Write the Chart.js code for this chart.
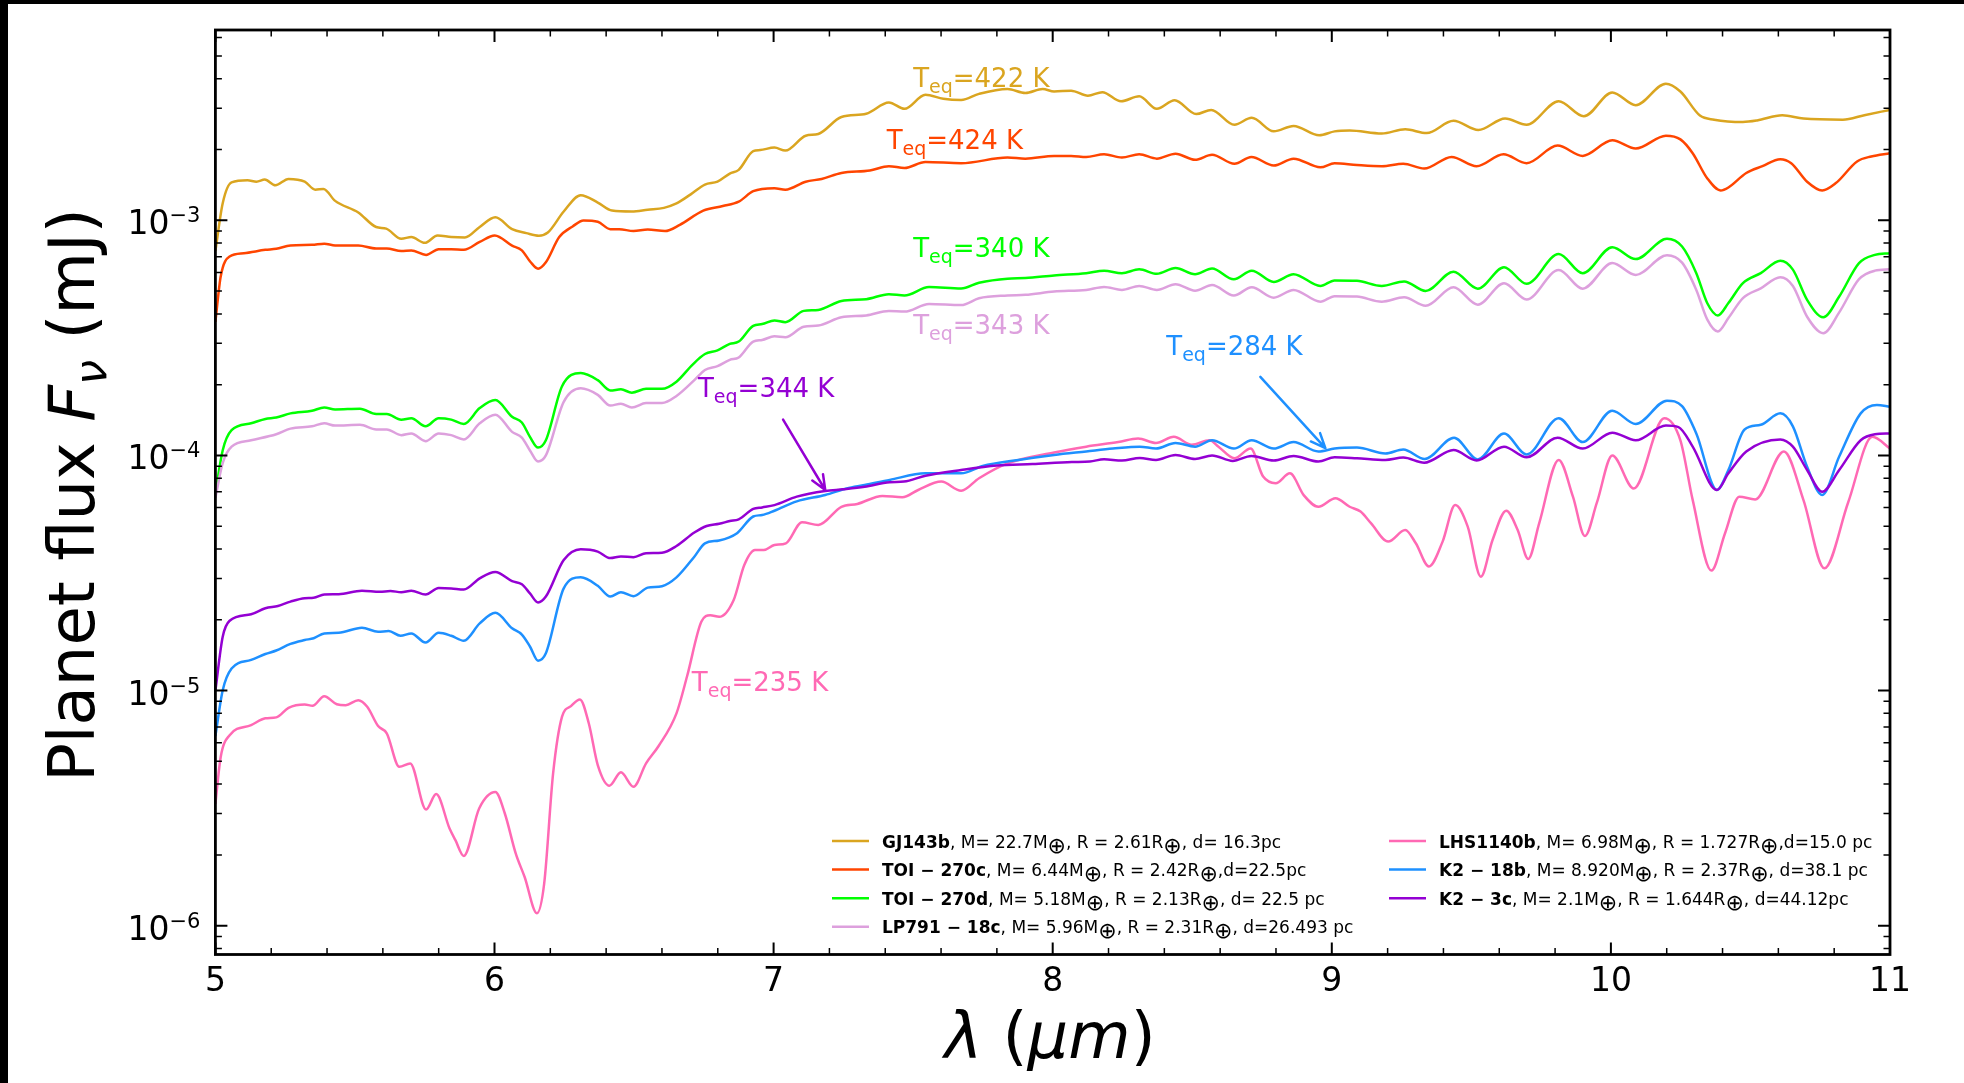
<!DOCTYPE html>
<html>
<head>
<meta charset="utf-8">
<script src="https://cdn.jsdelivr.net/npm/chart.js@4.4.0/dist/chart.umd.min.js"></script>
<style>
  html, body { margin: 0; padding: 0; background: #000; }
  body { width: 1964px; height: 1083px; overflow: hidden; position: relative; }
  #panel { position: absolute; left: 8px; top: 4px; width: 1956px; height: 1079px; background: #fff; }
  #plot { display: block; }
</style>
</head>
<body>
<div id="panel"><canvas id="plot" width="1956" height="1079"></canvas></div>
<script>
// ---- data: [wavelength (um), planet flux (mJ)] ----
const gj143b = [[5.0,7.4e-4],[5.026,1.18e-3],[5.058,1.45e-3],[5.115,1.48e-3],[5.147,1.46e-3],[5.177,1.49e-3],[5.215,1.41e-3],[5.262,1.50e-3],[5.32,1.46e-3],[5.358,1.35e-3],[5.387,1.36e-3],[5.429,1.21e-3],[5.512,1.08e-3],[5.576,9.37e-4],[5.612,9.22e-4],[5.666,8.35e-4],[5.702,8.49e-4],[5.75,8.02e-4],[5.796,8.62e-4],[5.845,8.49e-4],[5.894,8.45e-4],[5.947,9.37e-4],[6.003,1.03e-3],[6.063,9.17e-4],[6.114,8.82e-4],[6.159,8.60e-4],[6.191,8.87e-4],[6.248,1.09e-3],[6.309,1.28e-3],[6.37,1.19e-3],[6.421,1.10e-3],[6.492,1.09e-3],[6.549,1.11e-3],[6.607,1.13e-3],[6.652,1.18e-3],[6.703,1.29e-3],[6.754,1.42e-3],[6.799,1.46e-3],[6.843,1.58e-3],[6.875,1.64e-3],[6.927,1.97e-3],[6.952,1.99e-3],[7.003,2.04e-3],[7.042,1.98e-3],[7.115,2.29e-3],[7.16,2.33e-3],[7.243,2.75e-3],[7.332,2.84e-3],[7.413,3.17e-3],[7.469,2.98e-3],[7.544,3.42e-3],[7.608,3.29e-3],[7.672,3.25e-3],[7.736,3.45e-3],[7.838,3.62e-3],[7.902,3.48e-3],[7.964,3.62e-3],[8.005,3.53e-3],[8.066,3.56e-3],[8.126,3.39e-3],[8.178,3.51e-3],[8.245,3.21e-3],[8.31,3.37e-3],[8.373,2.98e-3],[8.437,3.24e-3],[8.514,2.83e-3],[8.568,2.95e-3],[8.651,2.55e-3],[8.713,2.73e-3],[8.792,2.39e-3],[8.863,2.52e-3],[8.955,2.30e-3],[9.01,2.39e-3],[9.064,2.41e-3],[9.179,2.34e-3],[9.263,2.44e-3],[9.34,2.35e-3],[9.436,2.65e-3],[9.525,2.42e-3],[9.621,2.71e-3],[9.698,2.55e-3],[9.813,3.21e-3],[9.903,2.77e-3],[10.005,3.50e-3],[10.089,3.09e-3],[10.197,3.81e-3],[10.249,3.53e-3],[10.319,2.79e-3],[10.37,2.68e-3],[10.473,2.62e-3],[10.524,2.66e-3],[10.614,2.80e-3],[10.69,2.71e-3],[10.831,2.68e-3],[10.908,2.80e-3],[11.0,2.95e-3]];

const toi270c = [[5.0,3.7e-4],[5.019,5.77e-4],[5.051,7.02e-4],[5.102,7.25e-4],[5.179,7.49e-4],[5.218,7.57e-4],[5.269,7.82e-4],[5.346,7.87e-4],[5.39,7.96e-4],[5.429,7.82e-4],[5.512,7.82e-4],[5.576,7.59e-4],[5.614,7.59e-4],[5.666,7.40e-4],[5.702,7.45e-4],[5.755,7.13e-4],[5.8,7.54e-4],[5.845,7.54e-4],[5.89,7.49e-4],[5.947,8.09e-4],[6.001,8.62e-4],[6.063,7.80e-4],[6.098,7.45e-4],[6.129,6.65e-4],[6.156,6.23e-4],[6.184,6.63e-4],[6.232,8.49e-4],[6.28,9.42e-4],[6.319,9.98e-4],[6.37,9.86e-4],[6.415,9.17e-4],[6.447,9.17e-4],[6.498,9.00e-4],[6.549,9.14e-4],[6.611,9.00e-4],[6.664,9.57e-4],[6.748,1.10e-3],[6.818,1.15e-3],[6.875,1.20e-3],[6.927,1.33e-3],[7.003,1.37e-3],[7.042,1.35e-3],[7.115,1.46e-3],[7.172,1.50e-3],[7.243,1.59e-3],[7.345,1.63e-3],[7.413,1.70e-3],[7.469,1.67e-3],[7.544,1.77e-3],[7.672,1.75e-3],[7.838,1.85e-3],[7.902,1.83e-3],[8.005,1.88e-3],[8.066,1.88e-3],[8.12,1.86e-3],[8.184,1.91e-3],[8.248,1.85e-3],[8.31,1.91e-3],[8.373,1.83e-3],[8.44,1.92e-3],[8.51,1.81e-3],[8.571,1.90e-3],[8.651,1.74e-3],[8.712,1.86e-3],[8.792,1.71e-3],[8.863,1.83e-3],[8.959,1.68e-3],[9.01,1.75e-3],[9.09,1.72e-3],[9.179,1.70e-3],[9.256,1.74e-3],[9.331,1.66e-3],[9.429,1.86e-3],[9.519,1.70e-3],[9.615,1.91e-3],[9.698,1.75e-3],[9.809,2.08e-3],[9.899,1.88e-3],[10.005,2.19e-3],[10.089,2.02e-3],[10.197,2.29e-3],[10.249,2.21e-3],[10.293,1.93e-3],[10.345,1.51e-3],[10.393,1.34e-3],[10.421,1.38e-3],[10.485,1.59e-3],[10.543,1.70e-3],[10.607,1.82e-3],[10.646,1.75e-3],[10.703,1.46e-3],[10.757,1.34e-3],[10.806,1.44e-3],[10.882,1.78e-3],[10.933,1.87e-3],[11.0,1.93e-3]];

const toi270d = [[5.0,6.9e-5],[5.026,1.05e-4],[5.058,1.28e-4],[5.128,1.37e-4],[5.179,1.43e-4],[5.218,1.45e-4],[5.269,1.51e-4],[5.346,1.55e-4],[5.39,1.60e-4],[5.429,1.57e-4],[5.518,1.58e-4],[5.576,1.50e-4],[5.614,1.50e-4],[5.666,1.42e-4],[5.702,1.44e-4],[5.753,1.33e-4],[5.8,1.44e-4],[5.845,1.42e-4],[5.89,1.36e-4],[5.947,1.59e-4],[6.003,1.72e-4],[6.063,1.46e-4],[6.098,1.38e-4],[6.127,1.20e-4],[6.156,1.08e-4],[6.184,1.16e-4],[6.242,1.97e-4],[6.309,2.24e-4],[6.37,2.09e-4],[6.415,1.89e-4],[6.453,1.91e-4],[6.492,1.85e-4],[6.543,1.92e-4],[6.6,1.92e-4],[6.652,2.06e-4],[6.709,2.43e-4],[6.754,2.70e-4],[6.799,2.80e-4],[6.843,2.98e-4],[6.875,3.05e-4],[6.927,3.56e-4],[6.959,3.62e-4],[7.003,3.75e-4],[7.042,3.69e-4],[7.108,4.12e-4],[7.16,4.16e-4],[7.243,4.54e-4],[7.332,4.62e-4],[7.413,4.85e-4],[7.469,4.79e-4],[7.557,5.20e-4],[7.672,5.13e-4],[7.736,5.43e-4],[7.838,5.65e-4],[7.902,5.68e-4],[8.005,5.83e-4],[8.12,5.96e-4],[8.184,6.11e-4],[8.248,5.96e-4],[8.31,6.19e-4],[8.373,5.92e-4],[8.44,6.27e-4],[8.51,5.90e-4],[8.571,6.24e-4],[8.649,5.61e-4],[8.713,6.11e-4],[8.792,5.47e-4],[8.863,5.90e-4],[8.959,5.26e-4],[9.01,5.55e-4],[9.09,5.53e-4],[9.179,5.26e-4],[9.259,5.50e-4],[9.336,5.01e-4],[9.436,6.05e-4],[9.523,5.12e-4],[9.617,6.32e-4],[9.698,5.37e-4],[9.813,7.19e-4],[9.899,5.96e-4],[10.005,7.69e-4],[10.089,6.84e-4],[10.201,8.35e-4],[10.255,7.74e-4],[10.306,5.96e-4],[10.345,4.45e-4],[10.383,3.94e-4],[10.421,4.45e-4],[10.473,5.41e-4],[10.537,5.96e-4],[10.607,6.73e-4],[10.652,6.17e-4],[10.703,4.59e-4],[10.761,3.87e-4],[10.818,4.74e-4],[10.889,6.58e-4],[10.946,7.13e-4],[11.0,7.25e-4]];

const lp79118c = [[5.0,6.6e-5],[5.026,9.27e-5],[5.058,1.09e-4],[5.128,1.16e-4],[5.218,1.23e-4],[5.269,1.30e-4],[5.346,1.33e-4],[5.39,1.37e-4],[5.429,1.34e-4],[5.518,1.35e-4],[5.576,1.29e-4],[5.614,1.29e-4],[5.666,1.22e-4],[5.702,1.24e-4],[5.753,1.15e-4],[5.8,1.24e-4],[5.845,1.22e-4],[5.89,1.17e-4],[5.947,1.37e-4],[6.003,1.49e-4],[6.063,1.26e-4],[6.098,1.19e-4],[6.127,1.05e-4],[6.156,9.42e-5],[6.184,1.00e-4],[6.248,1.69e-4],[6.309,1.93e-4],[6.37,1.81e-4],[6.415,1.63e-4],[6.453,1.66e-4],[6.492,1.60e-4],[6.543,1.67e-4],[6.6,1.67e-4],[6.652,1.79e-4],[6.716,2.09e-4],[6.754,2.31e-4],[6.799,2.40e-4],[6.843,2.55e-4],[6.875,2.61e-4],[6.927,3.05e-4],[6.959,3.10e-4],[7.003,3.21e-4],[7.042,3.18e-4],[7.108,3.53e-4],[7.16,3.57e-4],[7.243,3.87e-4],[7.332,3.94e-4],[7.413,4.12e-4],[7.469,4.09e-4],[7.557,4.41e-4],[7.672,4.36e-4],[7.736,4.66e-4],[7.838,4.79e-4],[7.902,4.82e-4],[8.005,4.98e-4],[8.12,5.06e-4],[8.184,5.21e-4],[8.248,5.06e-4],[8.31,5.26e-4],[8.373,5.06e-4],[8.44,5.35e-4],[8.51,5.02e-4],[8.571,5.31e-4],[8.649,4.79e-4],[8.713,5.19e-4],[8.792,4.69e-4],[8.863,5.06e-4],[8.959,4.51e-4],[9.01,4.76e-4],[9.09,4.74e-4],[9.179,4.51e-4],[9.259,4.71e-4],[9.336,4.33e-4],[9.436,5.19e-4],[9.523,4.38e-4],[9.617,5.40e-4],[9.698,4.61e-4],[9.813,6.15e-4],[9.899,5.12e-4],[10.005,6.58e-4],[10.089,5.86e-4],[10.201,7.11e-4],[10.255,6.61e-4],[10.306,5.06e-4],[10.345,3.79e-4],[10.383,3.37e-4],[10.421,3.84e-4],[10.473,4.67e-4],[10.537,5.14e-4],[10.607,5.73e-4],[10.652,5.26e-4],[10.703,3.89e-4],[10.761,3.31e-4],[10.818,4.06e-4],[10.889,5.62e-4],[10.946,6.11e-4],[11.0,6.19e-4]];

const lhs1140b = [[5.0,3.3e-6],[5.019,5.22e-6],[5.051,6.46e-6],[5.128,7.13e-6],[5.179,7.62e-6],[5.218,7.69e-6],[5.262,8.45e-6],[5.32,8.73e-6],[5.348,8.61e-6],[5.39,9.46e-6],[5.435,8.75e-6],[5.467,8.67e-6],[5.512,9.10e-6],[5.544,8.53e-6],[5.583,7.06e-6],[5.614,6.58e-6],[5.659,4.74e-6],[5.698,4.90e-6],[5.755,3.12e-6],[5.791,3.63e-6],[5.839,2.59e-6],[5.86,2.31e-6],[5.89,1.98e-6],[5.945,3.15e-6],[6.003,3.70e-6],[6.037,3.00e-6],[6.076,2.03e-6],[6.108,1.61e-6],[6.152,1.13e-6],[6.178,1.51e-6],[6.21,4.44e-6],[6.242,7.74e-6],[6.274,8.59e-6],[6.306,9.17e-6],[6.338,7.24e-6],[6.37,4.82e-6],[6.412,3.94e-6],[6.453,4.49e-6],[6.498,3.90e-6],[6.543,4.90e-6],[6.588,5.81e-6],[6.652,8.00e-6],[6.69,1.15e-5],[6.741,1.96e-5],[6.773,2.09e-5],[6.805,2.06e-5],[6.857,2.43e-5],[6.895,3.42e-5],[6.933,3.96e-5],[6.965,3.96e-5],[7.003,4.16e-5],[7.044,4.23e-5],[7.102,5.20e-5],[7.16,5.06e-5],[7.243,6.05e-5],[7.3,6.22e-5],[7.39,6.73e-5],[7.461,6.64e-5],[7.518,7.13e-5],[7.601,7.74e-5],[7.672,7.08e-5],[7.736,8.00e-5],[7.838,9.25e-5],[8.005,1.03e-4],[8.12,1.09e-4],[8.235,1.14e-4],[8.306,1.18e-4],[8.37,1.13e-4],[8.434,1.20e-4],[8.498,1.11e-4],[8.562,1.16e-4],[8.594,1.09e-4],[8.651,9.73e-5],[8.709,1.07e-4],[8.754,8.13e-5],[8.799,7.62e-5],[8.85,8.39e-5],[8.9,6.76e-5],[8.952,6.05e-5],[9.013,6.58e-5],[9.064,6.05e-5],[9.103,5.77e-5],[9.141,5.14e-5],[9.202,4.30e-5],[9.263,4.82e-5],[9.301,4.23e-5],[9.348,3.37e-5],[9.397,4.30e-5],[9.442,6.15e-5],[9.487,4.98e-5],[9.534,3.05e-5],[9.576,4.37e-5],[9.625,5.82e-5],[9.666,4.82e-5],[9.704,3.63e-5],[9.743,5.14e-5],[9.813,9.57e-5],[9.864,6.68e-5],[9.907,4.54e-5],[9.95,6.31e-5],[10.005,1.00e-4],[10.082,7.24e-5],[10.191,1.44e-4],[10.249,1.16e-4],[10.293,6.47e-5],[10.36,3.24e-5],[10.409,4.67e-5],[10.46,6.68e-5],[10.517,6.50e-5],[10.62,1.04e-4],[10.69,6.46e-5],[10.765,3.31e-5],[10.85,6.31e-5],[10.937,1.20e-4],[11.0,1.07e-4]];

const k218b = [[5.0,6.4e-6],[5.026,1.0e-5],[5.058,1.24e-5],[5.128,1.35e-5],[5.179,1.43e-5],[5.218,1.48e-5],[5.269,1.58e-5],[5.32,1.64e-5],[5.352,1.67e-5],[5.39,1.75e-5],[5.442,1.76e-5],[5.525,1.85e-5],[5.583,1.78e-5],[5.621,1.79e-5],[5.663,1.71e-5],[5.702,1.75e-5],[5.753,1.60e-5],[5.8,1.76e-5],[5.845,1.71e-5],[5.89,1.63e-5],[5.947,1.93e-5],[6.003,2.14e-5],[6.063,1.84e-5],[6.098,1.73e-5],[6.127,1.54e-5],[6.156,1.34e-5],[6.184,1.44e-5],[6.248,2.72e-5],[6.309,3.03e-5],[6.37,2.79e-5],[6.415,2.51e-5],[6.453,2.62e-5],[6.498,2.52e-5],[6.549,2.74e-5],[6.6,2.78e-5],[6.652,3.03e-5],[6.716,3.71e-5],[6.754,4.23e-5],[6.805,4.35e-5],[6.869,4.67e-5],[6.927,5.50e-5],[6.959,5.58e-5],[7.003,5.82e-5],[7.083,6.38e-5],[7.185,6.79e-5],[7.262,7.24e-5],[7.326,7.48e-5],[7.416,7.87e-5],[7.544,8.39e-5],[7.672,8.39e-5],[7.749,9.02e-5],[7.877,9.57e-5],[8.005,1.005e-4],[8.12,1.04e-4],[8.216,1.07e-4],[8.312,1.09e-4],[8.37,1.07e-4],[8.44,1.13e-4],[8.51,1.09e-4],[8.571,1.16e-4],[8.649,1.07e-4],[8.713,1.16e-4],[8.792,1.07e-4],[8.863,1.14e-4],[8.952,1.04e-4],[9.01,1.07e-4],[9.09,1.08e-4],[9.192,1.02e-4],[9.256,1.06e-4],[9.333,9.66e-5],[9.438,1.19e-4],[9.523,9.62e-5],[9.617,1.24e-4],[9.698,1.01e-4],[9.813,1.44e-4],[9.899,1.14e-4],[10.005,1.55e-4],[10.089,1.36e-4],[10.201,1.71e-4],[10.255,1.62e-4],[10.306,1.24e-4],[10.38,7.13e-5],[10.421,8.67e-5],[10.479,1.29e-4],[10.537,1.35e-4],[10.607,1.51e-4],[10.652,1.33e-4],[10.703,8.95e-5],[10.757,6.79e-5],[10.818,9.89e-5],[10.895,1.51e-4],[10.953,1.64e-4],[11.0,1.61e-4]];

const k23c = [[5.0,1.0e-5],[5.026,1.69e-5],[5.051,1.98e-5],[5.128,2.11e-5],[5.179,2.24e-5],[5.224,2.29e-5],[5.269,2.39e-5],[5.32,2.47e-5],[5.352,2.48e-5],[5.39,2.56e-5],[5.442,2.57e-5],[5.525,2.66e-5],[5.589,2.63e-5],[5.627,2.65e-5],[5.666,2.62e-5],[5.702,2.66e-5],[5.753,2.56e-5],[5.8,2.73e-5],[5.845,2.72e-5],[5.89,2.69e-5],[5.947,3.00e-5],[6.003,3.19e-5],[6.063,2.92e-5],[6.098,2.83e-5],[6.127,2.59e-5],[6.156,2.37e-5],[6.184,2.51e-5],[6.248,3.59e-5],[6.309,3.99e-5],[6.37,3.90e-5],[6.415,3.66e-5],[6.453,3.72e-5],[6.498,3.69e-5],[6.543,3.84e-5],[6.6,3.86e-5],[6.652,4.12e-5],[6.716,4.70e-5],[6.76,5.01e-5],[6.805,5.12e-5],[6.843,5.26e-5],[6.875,5.35e-5],[6.927,5.92e-5],[6.959,6.01e-5],[7.003,6.15e-5],[7.083,6.68e-5],[7.185,7.06e-5],[7.249,7.18e-5],[7.326,7.36e-5],[7.416,7.69e-5],[7.467,7.74e-5],[7.544,8.20e-5],[7.672,8.67e-5],[7.8,9.06e-5],[7.928,9.20e-5],[8.069,9.38e-5],[8.133,9.42e-5],[8.184,9.64e-5],[8.248,9.51e-5],[8.312,9.75e-5],[8.37,9.57e-5],[8.44,1.005e-4],[8.51,9.66e-5],[8.571,1.00e-4],[8.645,9.48e-5],[8.712,9.95e-5],[8.792,9.51e-5],[8.863,9.95e-5],[8.952,9.42e-5],[9.01,9.82e-5],[9.09,9.73e-5],[9.192,9.57e-5],[9.256,9.79e-5],[9.331,9.31e-5],[9.436,1.054e-4],[9.519,9.51e-5],[9.617,1.09e-4],[9.698,9.82e-5],[9.809,1.19e-4],[9.899,1.07e-4],[10.005,1.25e-4],[10.089,1.16e-4],[10.197,1.34e-4],[10.242,1.32e-4],[10.293,1.09e-4],[10.38,7.13e-5],[10.421,8.39e-5],[10.485,1.04e-4],[10.607,1.17e-4],[10.652,1.09e-4],[10.703,8.67e-5],[10.757,7.01e-5],[10.818,8.67e-5],[10.895,1.16e-4],[10.946,1.23e-4],[11.0,1.24e-4]];

// legend: bold planet name + parameters (⊕ drawn as subscript)
const planetNames = ['GJ143b', 'TOI − 270c', 'TOI − 270d', 'LP791 − 18c', 'LHS1140b', 'K2 − 18b', 'K2 − 3c'];
const planetInfo = [
  ', M= 22.7M⊕, R = 2.61R⊕, d= 16.3pc',
  ', M= 6.44M⊕, R = 2.42R⊕,d=22.5pc',
  ', M= 5.18M⊕, R = 2.13R⊕, d= 22.5 pc',
  ', M= 5.96M⊕, R = 2.31R⊕, d=26.493 pc',
  ', M= 6.98M⊕, R = 1.727R⊕,d=15.0 pc',
  ', M= 8.920M⊕, R = 2.37R⊕, d=38.1 pc',
  ', M= 2.1M⊕, R = 1.644R⊕, d=44.12pc'
];
const lineColors = ['#DAA520', '#FF4500', '#00FF00', '#DDA0DD', '#FF69B4', '#1E90FF', '#9400D3'];
const seriesData = [gj143b, toi270c, toi270d, lp79118c, lhs1140b, k218b, k23c];

// equilibrium temperature labels (data coords of text baseline start)
const teqText = ['=422 K', '=424 K', '=340 K', '=343 K', '=235 K', '=284 K', '=344 K'];
const teqX = [7.50, 7.405, 7.50, 7.50, 6.707, 8.407, 6.729];
const teqY = [3.69e-3, 2.01e-3, 6.97e-4, 3.29e-4, 1.0e-5, 2.68e-4, 1.78e-4];

// arrows (K2-18b, K2-3c)
const arrowFrom = [[8.744, 2.16e-4], [7.034, 1.42e-4]];
const arrowTo = [[8.977, 1.074e-4], [7.185, 7.13e-5]];
const arrowColor = ['#1E90FF', '#9400D3'];

// axis ranges / ticks
const X_MIN = 5, X_MAX = 11;
const Y_MIN = 7.54e-7, Y_MAX = 6.45e-3;
const yTickValues = [1e-6, 1e-5, 1e-4, 1e-3];
const yTickExponents = ['−6', '−5', '−4', '−3'];

const FONT = 'DejaVu Sans';

// draws a run of text pieces with their own font / vertical offset
function drawRich(ctx, x, y, parts) {
    for (const p of parts) {
        ctx.font = p.font;
        ctx.fillText(p.text, x, y + (p.dy || 0));
        x += ctx.measureText(p.text).width;
    }
    return x;
}

function richWidth(ctx, parts) {
    let w = 0;
    for (const p of parts) {
        ctx.font = p.font;
        w += ctx.measureText(p.text).width;
    }
    return w;
}

const decorations = {
    id: 'decorations',
    afterDraw(chart) {
        const { ctx, chartArea: a } = chart;
        const xs = chart.scales.x, ys = chart.scales.y;
        ctx.save();
        ctx.strokeStyle = '#000';
        ctx.fillStyle = '#000';

        // inward ticks on all four sides
        for (let i = 0; i <= 30; i++) {
            const v = X_MIN + i * 0.2;
            const px = xs.getPixelForValue(v);
            const major = i % 5 === 0;
            const len = major ? 12 : 6.5;
            ctx.lineWidth = major ? 2 : 1.5;
            ctx.beginPath();
            ctx.moveTo(px, a.bottom); ctx.lineTo(px, a.bottom - len);
            ctx.moveTo(px, a.top); ctx.lineTo(px, a.top + len);
            ctx.stroke();
        }
        for (let e = -7; e <= -2; e++) {
            for (let k = 1; k <= 9; k++) {
                const v = k * Math.pow(10, e);
                if (v < Y_MIN || v > Y_MAX) continue;
                const py = ys.getPixelForValue(v);
                const major = k === 1;
                const len = major ? 12 : 6.5;
                ctx.lineWidth = major ? 2 : 1.5;
                ctx.beginPath();
                ctx.moveTo(a.left, py); ctx.lineTo(a.left + len, py);
                ctx.moveTo(a.right, py); ctx.lineTo(a.right - len, py);
                ctx.stroke();
            }
        }

        // frame
        ctx.lineWidth = 2.8;
        ctx.strokeRect(a.left, a.top, a.right - a.left, a.bottom - a.top);

        ctx.textBaseline = 'alphabetic';
        ctx.textAlign = 'left';

        // y tick labels 10^n, placed on the log scale's ticks
        ys.ticks.forEach((t, i) => {
            const py = ys.getPixelForValue(t.value);
            const parts = [
                { text: '10', font: `33px ${FONT}` },
                { text: yTickExponents[i], font: `21px ${FONT}`, dy: -12 }
            ];
            drawRich(ctx, a.left - 15 - richWidth(ctx, parts), py + 14, parts);
        });

        // T_eq labels
        teqText.forEach((t, i) => {
            ctx.fillStyle = lineColors[i];
            drawRich(ctx, xs.getPixelForValue(teqX[i]), ys.getPixelForValue(teqY[i]), [
                { text: 'T', font: `26px ${FONT}` },
                { text: 'eq', font: `19px ${FONT}`, dy: 6 },
                { text: t, font: `26px ${FONT}` }
            ]);
        });

        // arrows
        arrowFrom.forEach((f, i) => {
            const x0 = xs.getPixelForValue(f[0]), y0 = ys.getPixelForValue(f[1]);
            const x1 = xs.getPixelForValue(arrowTo[i][0]), y1 = ys.getPixelForValue(arrowTo[i][1]);
            const ang = Math.atan2(y1 - y0, x1 - x0);
            ctx.strokeStyle = arrowColor[i];
            ctx.lineWidth = 2.5;
            ctx.lineCap = 'round';
            ctx.beginPath();
            ctx.moveTo(x0, y0); ctx.lineTo(x1, y1);
            for (const s of [-1, 1]) {
                ctx.moveTo(x1, y1);
                ctx.lineTo(x1 - 16 * Math.cos(ang + s * 0.4), y1 - 16 * Math.sin(ang + s * 0.4));
            }
            ctx.stroke();
        });

        // legend, two columns
        planetNames.forEach((name, i) => {
            const col = i < 4 ? 0 : 1;
            const row = i < 4 ? i : i - 4;
            const ly = 837 + row * 28.6;
            const lx = col ? 1381 : 824;
            ctx.strokeStyle = lineColors[i];
            ctx.lineWidth = 2.5;
            ctx.lineCap = 'butt';
            ctx.beginPath();
            ctx.moveTo(lx, ly); ctx.lineTo(lx + 37, ly);
            ctx.stroke();
            ctx.fillStyle = '#000';
            const parts = [{ text: name, font: `bold 17px ${FONT}` }];
            const bits = planetInfo[i].split('⊕');
            bits.forEach((b, j) => {
                parts.push({ text: b, font: `17px ${FONT}` });
                if (j < bits.length - 1) parts.push({ text: '⊕', font: `22px ${FONT}`, dy: 5 });
            });
            drawRich(ctx, lx + 50, ly + 6.5, parts);
        });

        // axis titles
        ctx.fillStyle = '#000';
        const xParts = [
            { text: 'λ', font: `italic 64px ${FONT}` },
            { text: ' (', font: `64px ${FONT}` },
            { text: 'μm', font: `italic 64px ${FONT}` },
            { text: ')', font: `64px ${FONT}` }
        ];
        drawRich(ctx, 1042 - richWidth(ctx, xParts) / 2, 1054, xParts);

        const yParts = [
            { text: 'Planet flux ', font: `64px ${FONT}` },
            { text: 'F', font: `italic 64px ${FONT}` },
            { text: 'ν', font: `italic 45px ${FONT}`, dy: 12 },
            { text: ' (mJ)', font: `64px ${FONT}` }
        ];
        ctx.translate(86, 491);
        ctx.rotate(-Math.PI / 2);
        drawRich(ctx, -richWidth(ctx, yParts) / 2, 0, yParts);
        ctx.restore();
    }
};

Chart.defaults.color = '#000';
Chart.defaults.font.family = FONT;

new Chart(document.getElementById('plot'), {
    type: 'line',
    data: {
        datasets: seriesData.map((pts, i) => ({
            label: planetNames[i],
            data: pts.map(p => ({ x: p[0], y: p[1] })),
            borderColor: lineColors[i],
            borderWidth: 2.5,
            pointRadius: 0,
            fill: false,
            cubicInterpolationMode: 'monotone',
            order: seriesData.length - i
        }))
    },
    options: {
        responsive: false,
        animation: false,
        events: [],
        layout: { padding: { top: 26, right: 74, left: 0, bottom: 0 } },
        plugins: { legend: { display: false }, tooltip: { enabled: false } },
        scales: {
            x: {
                type: 'linear', min: X_MIN, max: X_MAX,
                grid: { display: false, drawTicks: false },
                border: { display: false },
                ticks: { stepSize: 1, font: { size: 33 }, color: '#000', padding: 8, maxRotation: 0, autoSkip: false },
                afterFit: s => { s.height = 128.5; }
            },
            y: {
                type: 'logarithmic', min: Y_MIN, max: Y_MAX,
                grid: { display: false, drawTicks: false },
                border: { display: false },
                ticks: { display: false },
                afterBuildTicks: s => { s.ticks = yTickValues.map(v => ({ value: v })); },
                afterFit: s => { s.width = 207.4; }
            }
        }
    },
    plugins: [decorations]
});
</script>
</body>
</html>
